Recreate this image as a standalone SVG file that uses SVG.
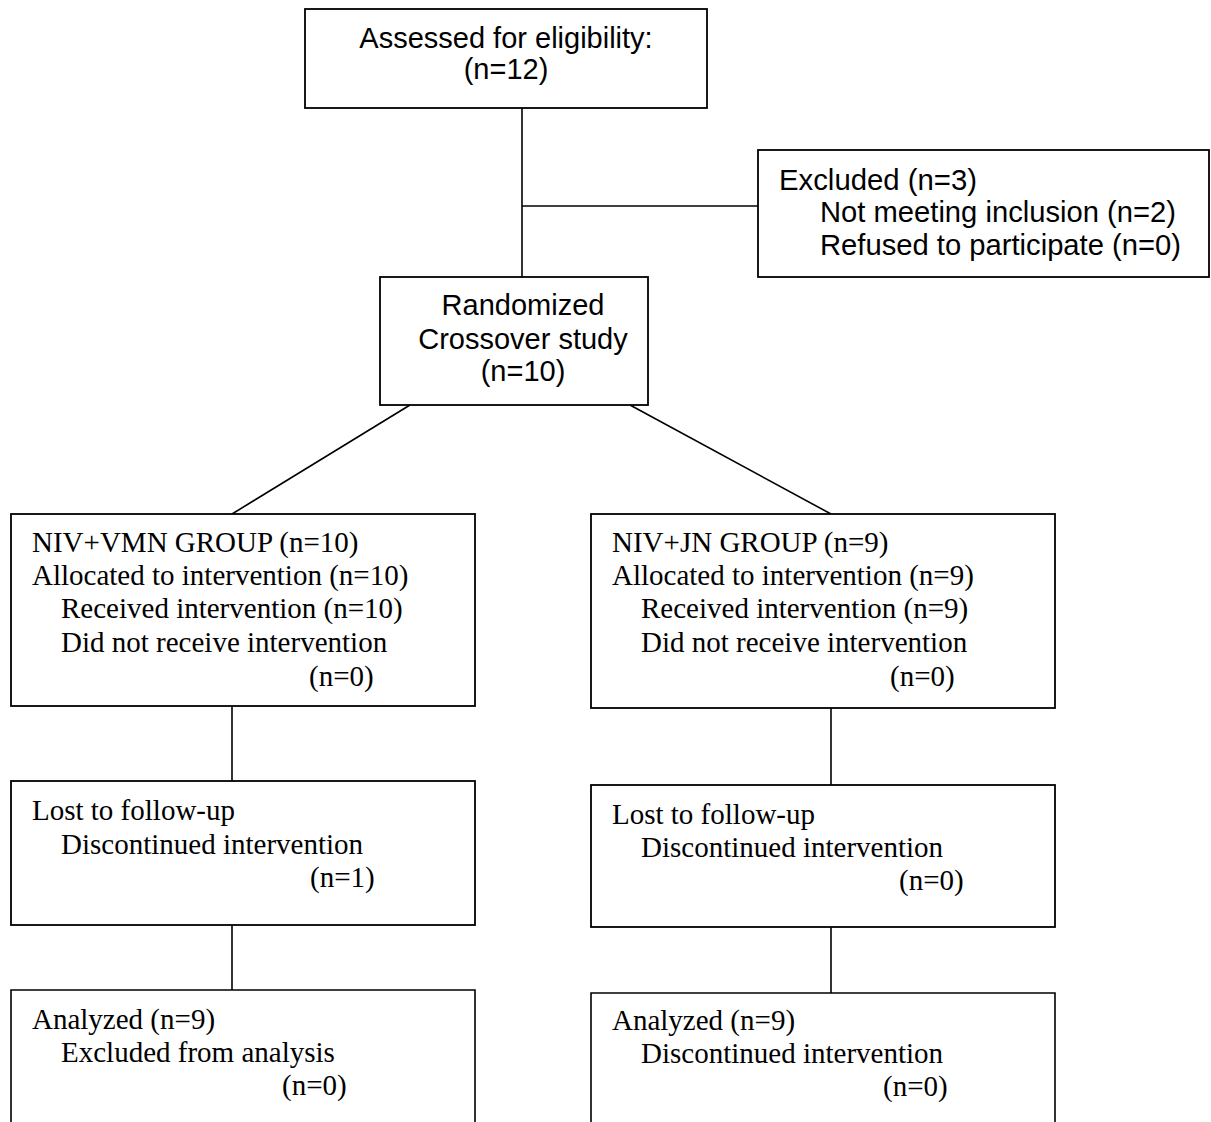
<svg xmlns="http://www.w3.org/2000/svg" width="1211" height="1122" viewBox="0 0 1211 1122">
<style>
.box{fill:#fff;stroke:#000;stroke-width:1.8}
.ln{stroke:#000;stroke-width:1.6;fill:none}
.a{font-family:"Liberation Sans",Arial,sans-serif;font-size:29px;fill:#000}
.ae{font-family:"Liberation Sans",Arial,sans-serif;font-size:29px;fill:#000}
.t{font-family:"Liberation Serif","Times New Roman",serif;font-size:29px;fill:#000}
.c{text-anchor:middle}
</style>
<rect width="1211" height="1122" fill="#fff"/>
<g id="connectors">
<line class="ln" x1="522" y1="108" x2="522" y2="277"/>
<line class="ln" x1="522" y1="206" x2="758" y2="206"/>
<line class="ln" x1="410" y1="405" x2="232" y2="514"/>
<line class="ln" x1="630" y1="405" x2="831" y2="514"/>
<line class="ln" x1="232" y1="706" x2="232" y2="781"/>
<line class="ln" x1="831" y1="708" x2="831" y2="785"/>
<line class="ln" x1="232" y1="925" x2="232" y2="990"/>
<line class="ln" x1="831" y1="927" x2="831" y2="993"/>
</g>
<g id="assessed">
<rect class="box" x="305" y="9" width="402" height="99"/>
<text class="a c" x="506" y="48">Assessed for eligibility:</text>
<text class="a c" x="506" y="79">(n=12)</text>
</g>
<g id="excluded">
<rect class="box" x="758" y="150" width="451" height="127"/>
<text class="ae" x="779" y="190" textLength="198" lengthAdjust="spacingAndGlyphs">Excluded (n=3)</text>
<text class="ae" x="820" y="222" textLength="356" lengthAdjust="spacingAndGlyphs">Not meeting inclusion (n=2)</text>
<text class="ae" x="820" y="255" textLength="361" lengthAdjust="spacingAndGlyphs">Refused to participate (n=0)</text>
</g>
<g id="randomized">
<rect class="box" x="380" y="277" width="268" height="128"/>
<text class="a c" x="523" y="315">Randomized</text>
<text class="a c" x="523" y="349">Crossover study</text>
<text class="a c" x="523" y="381">(n=10)</text>
</g>
<g id="group-vmn">
<rect class="box" x="11" y="514" width="464" height="192"/>
<text class="t" x="32" y="552">NIV+VMN GROUP (n=10)</text>
<text class="t" x="32" y="585">Allocated to intervention (n=10)</text>
<text class="t" x="61" y="618">Received intervention (n=10)</text>
<text class="t" x="61" y="652">Did not receive intervention</text>
<text class="t" x="309" y="686">(n=0)</text>
</g>
<g id="group-jn">
<rect class="box" x="591" y="514" width="464" height="194"/>
<text class="t" x="612" y="552">NIV+JN GROUP (n=9)</text>
<text class="t" x="612" y="585">Allocated to intervention (n=9)</text>
<text class="t" x="641" y="618">Received intervention (n=9)</text>
<text class="t" x="641" y="652">Did not receive intervention</text>
<text class="t" x="890" y="686">(n=0)</text>
</g>
<g id="lost-vmn">
<rect class="box" x="11" y="781" width="464" height="144"/>
<text class="t" x="32" y="820">Lost to follow-up</text>
<text class="t" x="61" y="854">Discontinued intervention</text>
<text class="t" x="310" y="887">(n=1)</text>
</g>
<g id="lost-jn">
<rect class="box" x="591" y="785" width="464" height="142"/>
<text class="t" x="612" y="824">Lost to follow-up</text>
<text class="t" x="641" y="857">Discontinued intervention</text>
<text class="t" x="899" y="890">(n=0)</text>
</g>
<g id="analyzed-vmn">
<path class="ln" d="M11,1123 V990 H475 V1123" stroke-width="1.8"/>
<text class="t" x="32" y="1029">Analyzed (n=9)</text>
<text class="t" x="61" y="1062">Excluded from analysis</text>
<text class="t" x="282" y="1095">(n=0)</text>
</g>
<g id="analyzed-jn">
<path class="ln" d="M591,1123 V993 H1055 V1123" stroke-width="1.8"/>
<text class="t" x="612" y="1030">Analyzed (n=9)</text>
<text class="t" x="641" y="1063">Discontinued intervention</text>
<text class="t" x="883" y="1096">(n=0)</text>
</g>
</svg>
